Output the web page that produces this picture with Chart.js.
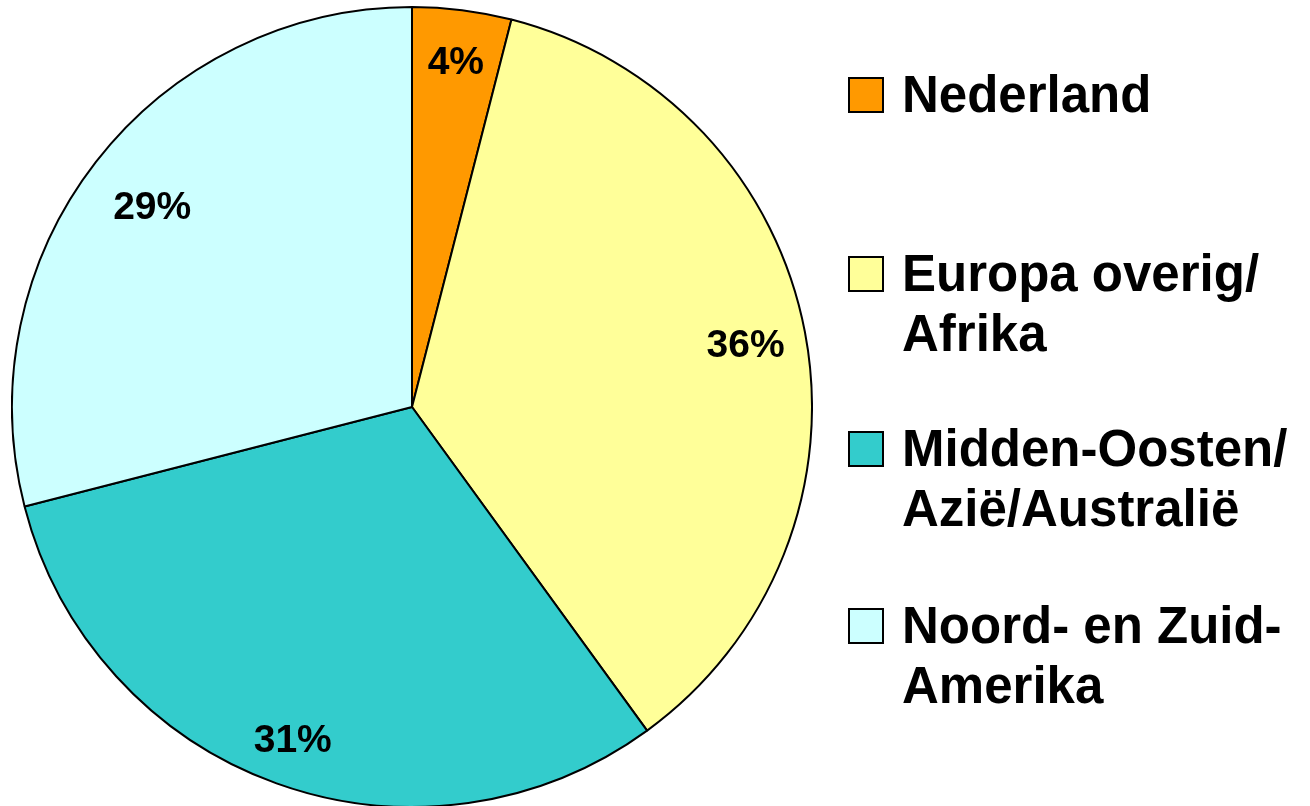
<!DOCTYPE html>
<html>
<head>
<meta charset="utf-8">
<script src="https://cdn.jsdelivr.net/npm/chart.js@4/dist/chart.umd.min.js"></script>
<style>
  body { margin: 0; background: #fff; width: 1310px; height: 806px; overflow: hidden; position: relative; }
  #wrap { position: absolute; left: 11px; top: 6px; width: 802px; height: 802px; }
  .item { position: absolute; left: 848px; font: bold 51px "Liberation Sans", Arial, sans-serif; line-height: 60px; color: #000; }
  .item .box { position: absolute; left: 0; top: 12px; width: 32px; height: 32px; border: 2px solid #000; }
  .item .txt { position: absolute; left: 54px; white-space: nowrap; }
</style>
</head>
<body>
<div id="wrap"><canvas id="myChart"></canvas></div>
<div id="legend"></div>
<script>
const labels = ['Nederland', ['Europa overig/', 'Afrika'], ['Midden-Oosten/', 'Azië/Australië'], ['Noord- en Zuid-', 'Amerika']];
const values = [4, 36, 31, 29];
const colors = ['#FF9900', '#FFFF99', '#33CCCC', '#CCFFFF'];

// legend, drawn as html so the two-line labels wrap like the original
const legendTops = [65, 244, 419, 596];
const legend = document.getElementById('legend');
labels.forEach(function (lab, i) {
    const div = document.createElement('div');
    div.className = 'item';
    div.style.top = legendTops[i] + 'px';
    const lines = Array.isArray(lab) ? lab : [lab];
    div.innerHTML = '<div class="box" style="background:' + colors[i] + '"></div>' +
        '<div class="txt">' + lines.join('<br>') + '</div>';
    legend.appendChild(div);
});

// how far out (fraction of radius) each percentage sits
const labelRadius = [0.874, 0.849, 0.88, 0.822];

// percentage labels inside the slices
const pctLabels = {
    id: 'pctLabels',
    afterDatasetsDraw(chart) {
        const ctx = chart.ctx;
        const meta = chart.getDatasetMeta(0);
        const total = values.reduce((a, b) => a + b, 0);
        ctx.save();
        ctx.font = 'bold 39px "Liberation Sans", Arial, sans-serif';
        ctx.fillStyle = '#000';
        ctx.textAlign = 'center';
        ctx.textBaseline = 'middle';
        meta.data.forEach(function (arc, i) {
            const p = arc.getProps(['x', 'y', 'startAngle', 'endAngle', 'outerRadius'], true);
            const mid = (p.startAngle + p.endAngle) / 2;
            const r = p.outerRadius * labelRadius[i];
            const txt = Math.round(values[i] / total * 100) + '%';
            ctx.fillText(txt, p.x + Math.cos(mid) * r, p.y + Math.sin(mid) * r + 3);
        });
        ctx.restore();
    }
};

const ctx = document.getElementById('myChart').getContext('2d');
const myChart = new Chart(ctx, {
    type: 'pie',
    data: {
        labels: labels,
        datasets: [{
            data: values,
            backgroundColor: colors,
            borderColor: '#000',
            borderWidth: 2
        }]
    },
    options: {
        responsive: true,
        maintainAspectRatio: false,
        animation: false,
        layout: { padding: 0 },
        plugins: {
            legend: { display: false },
            tooltip: { enabled: false }
        }
    },
    plugins: [pctLabels]
});
</script>
</body>
</html>
